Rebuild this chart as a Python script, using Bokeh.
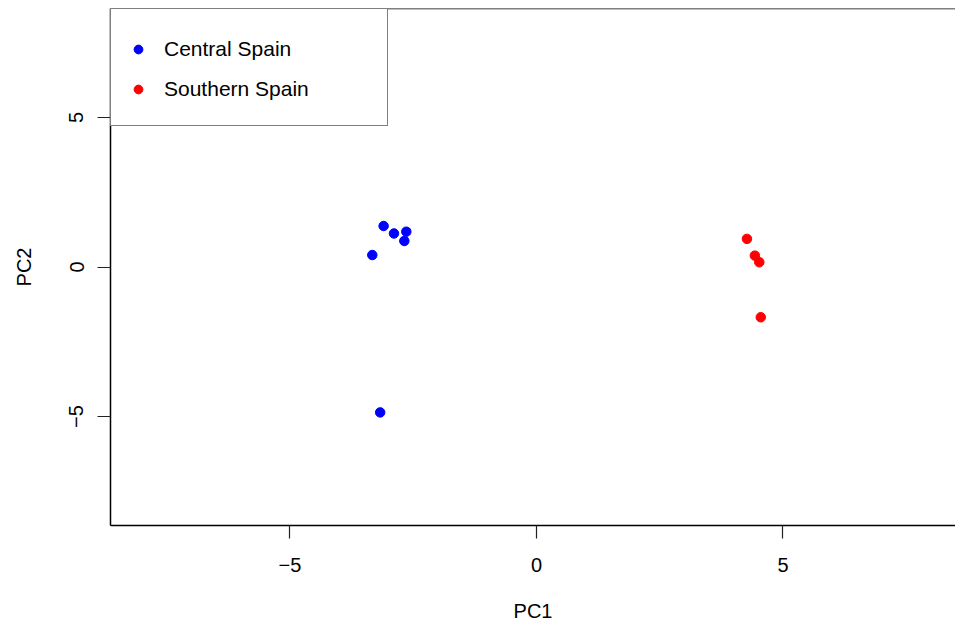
from bokeh.plotting import figure
from bokeh.models import Range1d, FixedTicker, Span, Legend, LegendItem
from bokeh.embed import file_html
from bokeh.resources import INLINE

# PCA scores per region
central_pc1 = [-3.33, -3.10, -2.89, -2.64, -2.68, -3.17]
central_pc2 = [0.40, 1.37, 1.12, 1.18, 0.87, -4.86]
southern_pc1 = [4.27, 4.43, 4.52, 4.55]
southern_pc2 = [0.94, 0.38, 0.16, -1.68]

groups = ["Central Spain", "Southern Spain"]
group_colors = ["#0000FF", "#FF0000"]

x_ticks = [-5, 0, 5]
y_ticks = [-5, 0, 5]
tick_labels = {-5: "\u22125", 0: "0", 5: "5"}

FONT = "Liberation Sans"
FS = "20px"
LEGEND_FS = "21px"

p = figure(
    width=955, height=626,
    output_backend="svg", toolbar_location=None,
    x_range=Range1d(-8.64, 8.50), y_range=Range1d(-8.64, 8.64),
    min_border_left=110, min_border_right=0,
    min_border_top=8, min_border_bottom=101,
    background_fill_color="white", border_fill_color="white",
)
p.outline_line_color = None
p.grid.visible = False

r_central = p.scatter(central_pc1, central_pc2, size=9.5,
                      fill_color=group_colors[0], line_color=group_colors[0])
r_southern = p.scatter(southern_pc1, southern_pc2, size=9.5,
                       fill_color=group_colors[1], line_color=group_colors[1])

# axes in the style of a base-R scatter plot
for ax, ticks in ((p.xaxis[0], x_ticks), (p.yaxis[0], y_ticks)):
    ax.ticker = FixedTicker(ticks=ticks)
    ax.major_label_overrides = tick_labels
    ax.axis_line_color = "black"
    ax.axis_line_width = 1.5
    ax.major_tick_line_color = "#222222"
    ax.major_tick_line_width = 1.2
    ax.major_tick_in = 0
    ax.major_tick_out = 13
    ax.minor_tick_line_color = None
    ax.major_label_text_font = FONT
    ax.major_label_text_font_size = FS
    ax.major_label_text_color = "black"
    ax.axis_label_text_font = FONT
    ax.axis_label_text_font_size = FS
    ax.axis_label_text_font_style = "normal"
    ax.axis_label_text_color = "black"

p.xaxis.axis_label = "PC1"
p.yaxis.axis_label = "PC2"
p.xaxis.major_label_standoff = 19
p.xaxis.axis_label_standoff = 25
p.yaxis.major_label_orientation = "vertical"
p.yaxis.major_label_standoff = 14
p.yaxis.axis_label_standoff = 32

# top edge of the plot box
p.add_layout(Span(location=8.64, dimension="width", line_color="black", line_width=1.5))

legend = Legend(
    items=[LegendItem(label=groups[0], renderers=[r_central]),
           LegendItem(label=groups[1], renderers=[r_southern])],
    location="top_left", margin=0, padding=16, spacing=0,
    title=" ", title_text_font_size="2px", title_standoff=2,
    glyph_width=22, glyph_height=40, label_height=40, label_width=207,
    label_standoff=15,
    label_text_font=FONT, label_text_font_size=LEGEND_FS, label_text_color="black",
    border_line_color="black", border_line_width=1.5,
    background_fill_color="white", background_fill_alpha=1.0,
)
p.add_layout(legend)

open("out.html", "w").write(file_html(p, INLINE))
